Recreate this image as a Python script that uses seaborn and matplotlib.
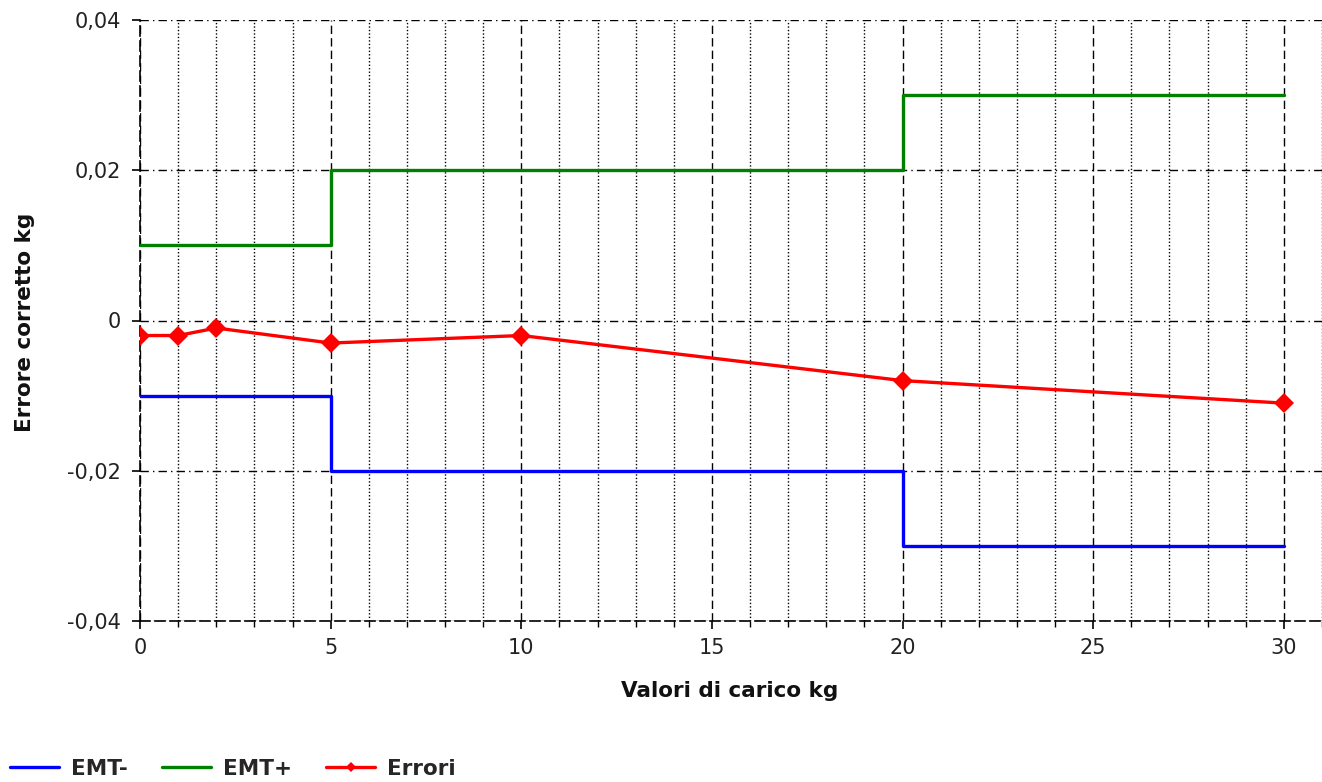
import matplotlib
matplotlib.use("Agg")
import matplotlib.pyplot as plt
import seaborn as sns
import pandas as pd
from matplotlib.ticker import MultipleLocator, FixedLocator

# --- data ---
emt_x = [0, 5, 20, 30]
emt_minus = [-0.01, -0.02, -0.03, -0.03]
emt_plus = [0.01, 0.02, 0.03, 0.03]

err_x = [0, 1, 2, 5, 10, 20, 30]
err_y = [-0.002, -0.002, -0.001, -0.003, -0.002, -0.008, -0.011]

y_ticks = [-0.04, -0.02, 0, 0.02, 0.04]
y_tick_labels = ["-0,04", "-0,02", "0", "0,02", "0,04"]
x_ticks = [0, 5, 10, 15, 20, 25, 30]

sns.set_style("white")
plt.rcParams['font.family'] = ['DejaVu Sans']

fig = plt.figure(figsize=(13.22, 7.82), dpi=100)
ax = fig.add_axes([140 / 1322, 1 - 621 / 782, 1 - 140 / 1322, 601 / 782])

df_emt = pd.DataFrame({'x': emt_x, 'minus': emt_minus, 'plus': emt_plus})
df_err = pd.DataFrame({'x': err_x, 'y': err_y})

sns.lineplot(data=df_emt, x='x', y='minus', ax=ax, color='#0000FF', lw=2.4,
             drawstyle='steps-post', label='EMT-', zorder=3)
sns.lineplot(data=df_emt, x='x', y='plus', ax=ax, color='#008000', lw=2.4,
             drawstyle='steps-post', label='EMT+', zorder=3)
sns.lineplot(data=df_err, x='x', y='y', ax=ax, color='#FF0000', lw=2.4,
             marker='D', markersize=10.5, markeredgewidth=0, label='Errori', zorder=4)

ax.set_xlim(0, 31)
ax.set_ylim(-0.04, 0.04)
ax.xaxis.set_major_locator(FixedLocator(x_ticks))
ax.xaxis.set_minor_locator(MultipleLocator(1))
ax.set_yticks(y_ticks)
ax.set_yticklabels(y_tick_labels)

# grid styling like the original chart control
ax.grid(which='major', axis='x', color='black', linestyle=(0, (6, 3)), lw=1)
ax.grid(which='minor', axis='x', color='black', linestyle=(0, (1, 1.5)), lw=1)
ax.grid(which='major', axis='y', color='black', linestyle=(0, (6, 3, 1, 3)), lw=1)
ax.set_axisbelow(True)

for side in ['top', 'right']:
    ax.spines[side].set_visible(False)
for side in ['left', 'bottom']:
    ax.spines[side].set_linestyle((0, (6, 3)))
    ax.spines[side].set_color('black')
    ax.spines[side].set_linewidth(1.2)

ax.tick_params(which='major', direction='out', length=6, width=1.2, color='black',
               labelsize=15, labelcolor='#222222', bottom=True, left=True)
ax.tick_params(axis='y', pad=8)
ax.tick_params(axis='x', pad=6)
ax.tick_params(which='minor', axis='x', direction='out', length=4, width=1,
               color='black', bottom=True)

ax.set_xlabel('Valori di carico kg', fontsize=15.5, fontweight='bold', color='#111111')
ax.set_ylabel('Errore corretto kg', fontsize=15.5, fontweight='bold', color='#111111')
ax.xaxis.set_label_coords(0.5 + (730 - 731) / 1182, -(681 - 621) / 601)
ax.yaxis.set_label_coords((35 - 140) / 1182, 0.5 + (320 - 322) / 601)

handles, labels = ax.get_legend_handles_labels()
ax.get_legend().remove()
fig.legend(handles, labels, loc='center left', bbox_to_anchor=(10 / 1322, 1 - 769 / 782),
           ncol=3, frameon=False, prop={'weight': 'bold', 'size': 15.5},
           handlelength=2.28, handletextpad=0.56, columnspacing=1.58,
           borderpad=0, borderaxespad=0, markerscale=0.5)

fig.savefig('out.png', dpi=100)
